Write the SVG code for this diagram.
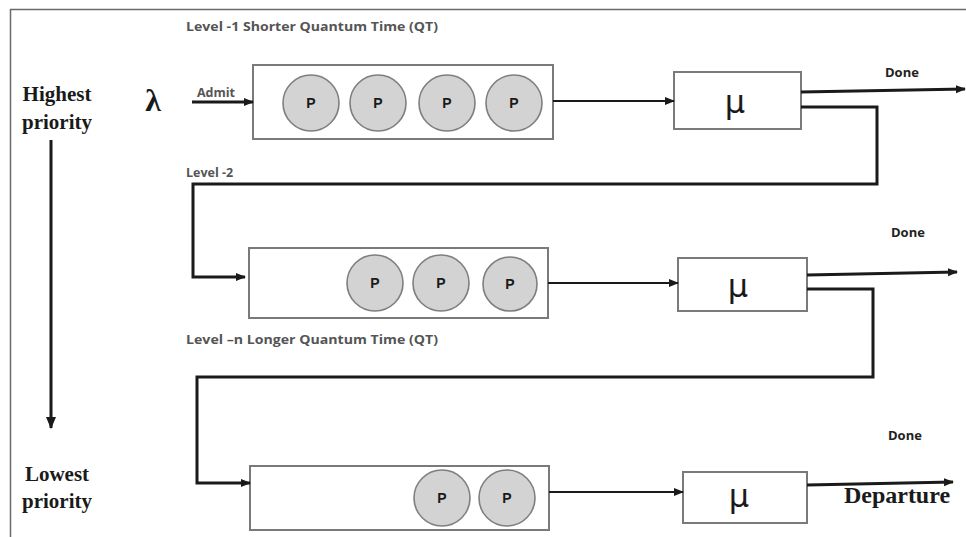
<svg xmlns="http://www.w3.org/2000/svg" width="966" height="537" viewBox="0 0 966 537">
<style>
.box{fill:#fff;stroke:#7a7a7a;stroke-width:2}
.proc{fill:#d3d3d3;stroke:#7f7f7f;stroke-width:1.6}
.ptxt{font-family:"Liberation Sans",Arial,sans-serif;font-weight:bold;font-size:14px;fill:#1a1a1a;text-anchor:middle}
.mu{font-family:"DejaVu Sans","Liberation Sans",sans-serif;font-size:32px;fill:#1a1a1a;text-anchor:middle}
.lvl{font-family:"Open Sans","Liberation Sans",sans-serif;font-weight:bold;font-size:12.5px;fill:#555}
.done{font-family:"Open Sans","Liberation Sans",sans-serif;font-weight:bold;font-size:13px;fill:#222}
.ser{font-family:"Liberation Serif","Times New Roman",serif;font-weight:bold;fill:#1a1a1a}
.ln{fill:none;stroke:#1a1a1a;stroke-width:2.2}
.thick{fill:none;stroke:#1a1a1a;stroke-width:3}
</style>
<defs>
<marker id="ah" markerWidth="10" markerHeight="10" refX="9" refY="5" orient="auto" markerUnits="userSpaceOnUse">
<path d="M0,1 L10,5 L0,9 z" fill="#1a1a1a"/>
</marker>
<marker id="ahb" markerWidth="12" markerHeight="12" refX="11" refY="6" orient="auto" markerUnits="userSpaceOnUse">
<path d="M0,1 L12,6 L0,11 z" fill="#1a1a1a"/>
</marker>
</defs>
<rect x="0" y="0" width="966" height="537" fill="#fff"/>
<g id="frame">
<path d="M10.5,537 V9.5 H966" fill="none" stroke="#6a6a6a" stroke-width="1.5"/>
</g>
<g id="labels">
<text class="lvl" x="186" y="31" textLength="252" lengthAdjust="spacingAndGlyphs">Level -1 Shorter Quantum Time (QT)</text>
<text class="lvl" x="186" y="177">Level -2</text>
<text class="lvl" x="186" y="344" textLength="252" lengthAdjust="spacingAndGlyphs">Level –n Longer Quantum Time (QT)</text>
<text class="ser" x="57" y="101" font-size="21" text-anchor="middle">Highest</text>
<text class="ser" x="57" y="129" font-size="21" text-anchor="middle">priority</text>
<text class="ser" x="57" y="481" font-size="21" text-anchor="middle">Lowest</text>
<text class="ser" x="57" y="508" font-size="21" text-anchor="middle">priority</text>
<text class="ser" x="153" y="111" font-size="32" text-anchor="middle">λ</text>
<text class="lvl" x="197" y="97" fill="#333" font-size="13">Admit</text>
<text class="done" x="885" y="77">Done</text>
<text class="done" x="891" y="237">Done</text>
<text class="done" x="888" y="440">Done</text>
<text class="ser" x="897" y="503" font-size="24" text-anchor="middle">Departure</text>
</g>
<g id="queue1">
<rect class="box" x="253" y="65" width="300" height="74"/>
<circle class="proc" cx="311" cy="103" r="28"/><text class="ptxt" x="311" y="108">P</text>
<circle class="proc" cx="378" cy="103" r="28"/><text class="ptxt" x="378" y="108">P</text>
<circle class="proc" cx="447" cy="103" r="28"/><text class="ptxt" x="447" y="108">P</text>
<circle class="proc" cx="514" cy="103" r="28"/><text class="ptxt" x="514" y="108">P</text>
</g>
<g id="server1">
<rect class="box" x="674" y="72" width="127" height="57"/>
<text class="mu" x="735" y="113">μ</text>
</g>
<g id="queue2">
<rect class="box" x="249" y="248" width="299" height="70"/>
<circle class="proc" cx="375" cy="283" r="28"/><text class="ptxt" x="375" y="288">P</text>
<circle class="proc" cx="441" cy="283" r="28"/><text class="ptxt" x="441" y="288">P</text>
<circle class="proc" cx="510" cy="284" r="27"/><text class="ptxt" x="510" y="289">P</text>
</g>
<g id="server2">
<rect class="box" x="678" y="258" width="129" height="53"/>
<text class="mu" x="738" y="297">μ</text>
</g>
<g id="queue3">
<rect class="box" x="250" y="466" width="299" height="64"/>
<circle class="proc" cx="442" cy="498" r="28"/><text class="ptxt" x="442" y="503">P</text>
<circle class="proc" cx="507" cy="498" r="28"/><text class="ptxt" x="507" y="503">P</text>
</g>
<g id="server3">
<rect class="box" x="683" y="472" width="124" height="51"/>
<text class="mu" x="739" y="507">μ</text>
</g>
<g id="connectors">
<line class="thick" x1="51" y1="140" x2="51" y2="428" marker-end="url(#ahb)"/>
<line class="thick" x1="192" y1="102" x2="253" y2="102" marker-end="url(#ah)"/>
<line class="ln" x1="553" y1="101" x2="674" y2="101" marker-end="url(#ah)"/>
<line class="thick" x1="801" y1="92" x2="965" y2="89" marker-end="url(#ah)"/>
<polyline class="thick" points="801,107 877,107 877,184 193,184 193,277 245,277" marker-end="url(#ah)"/>
<line class="ln" x1="548" y1="283" x2="678" y2="283" marker-end="url(#ah)"/>
<line class="thick" x1="807" y1="275" x2="957" y2="272" marker-end="url(#ah)"/>
<polyline class="thick" points="807,289 873,289 873,377 197,377 197,483 250,483" marker-end="url(#ah)"/>
<line class="ln" x1="549" y1="492" x2="683" y2="492" marker-end="url(#ah)"/>
<line class="thick" x1="807" y1="485" x2="953" y2="482" marker-end="url(#ah)"/>
</g>
</svg>
